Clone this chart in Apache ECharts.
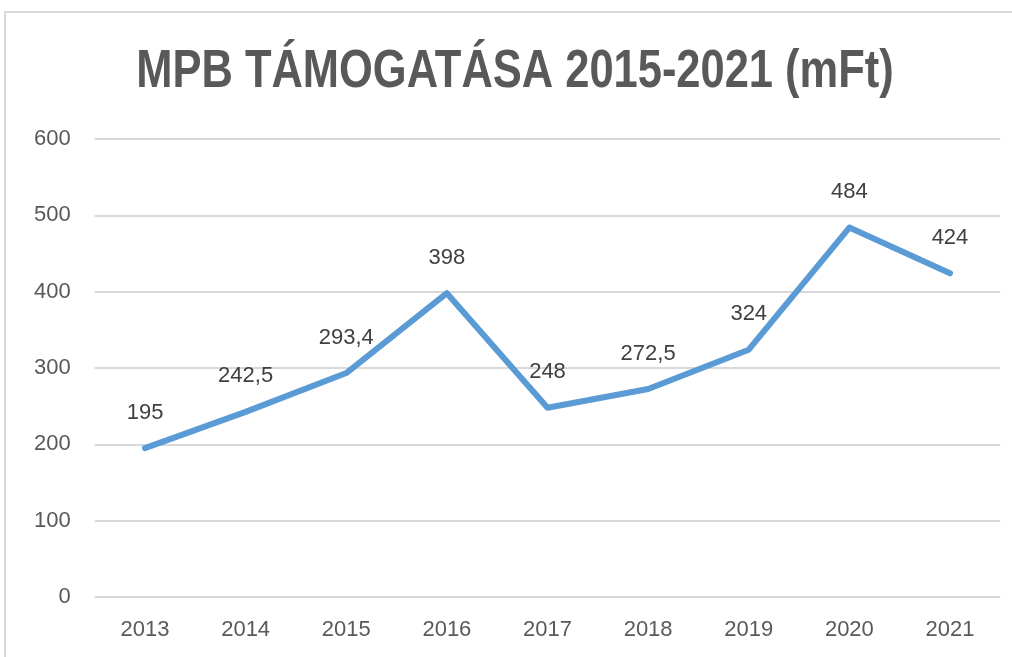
<!DOCTYPE html>
<html>
<head>
<meta charset="utf-8">
<script src="https://cdn.jsdelivr.net/npm/echarts@6/dist/echarts.min.js"></script>
<style>
html,body{margin:0;padding:0;background:#fff;}
#c{width:1012px;height:657px;}
</style>
</head>
<body>
<div id="c"></div>
<script>
const titleText = 'MPB TÁMOGATÁSA 2015-2021 (mFt)';
const years = ['2013','2014','2015','2016','2017','2018','2019','2020','2021'];
const support = [195, 242.5, 293.4, 398, 248, 272.5, 324, 484, 424];
const yMin = 0, yMax = 600, yStep = 100;

const chart = echarts.init(document.getElementById('c'), null, {renderer:'canvas'});
chart.setOption({
  backgroundColor: '#ffffff',
  animation: false,
  graphic: [{
    type: 'rect',
    shape: {x: 5, y: 12, width: 1200, height: 800},
    style: {fill: 'none', stroke: '#d9d9d9', lineWidth: 2},
    silent: true, z: -1
  }, {
    type: 'text',
    x: 515, y: 72,
    scaleX: 0.82,
    style: {
      text: titleText,
      fontFamily: '"Liberation Sans",Arial,sans-serif',
      fontWeight: 'bold',
      fontSize: 53,
      fill: '#595959',
      textAlign: 'center',
      textVerticalAlign: 'middle'
    },
    silent: true
  }],
  grid: {left: 94.7, right: 11.7, top: 139, bottom: 60, containLabel: false},
  xAxis: {
    type: 'category',
    data: years,
    boundaryGap: true,
    axisLine: {show: false},
    axisTick: {show: false},
    axisLabel: {
      color: '#595959',
      fontSize: 22,
      fontFamily: '"Liberation Sans",Arial,sans-serif',
      margin: 22
    }
  },
  yAxis: {
    type: 'value',
    min: yMin, max: yMax, interval: yStep,
    axisLine: {show: false},
    axisTick: {show: false},
    splitLine: {lineStyle: {color: '#d9d9d9', width: 2}},
    axisLabel: {
      color: '#595959',
      fontSize: 22,
      fontFamily: '"Liberation Sans",Arial,sans-serif',
      margin: 24
    }
  },
  series: [{
    type: 'line',
    data: support,
    showSymbol: true,
    symbol: 'circle',
    symbolSize: 1,
    itemStyle: {color: 'rgba(0,0,0,0)'},
    lineStyle: {color: '#5B9BD5', width: 6, cap: 'round', join: 'round'},
    label: {
      show: true,
      position: 'top',
      distance: 24,
      color: '#404040',
      fontSize: 22,
      fontFamily: '"Liberation Sans",Arial,sans-serif',
      formatter: p => String(p.value).replace('.', ',')
    }
  }]
});
</script>
</body>
</html>
